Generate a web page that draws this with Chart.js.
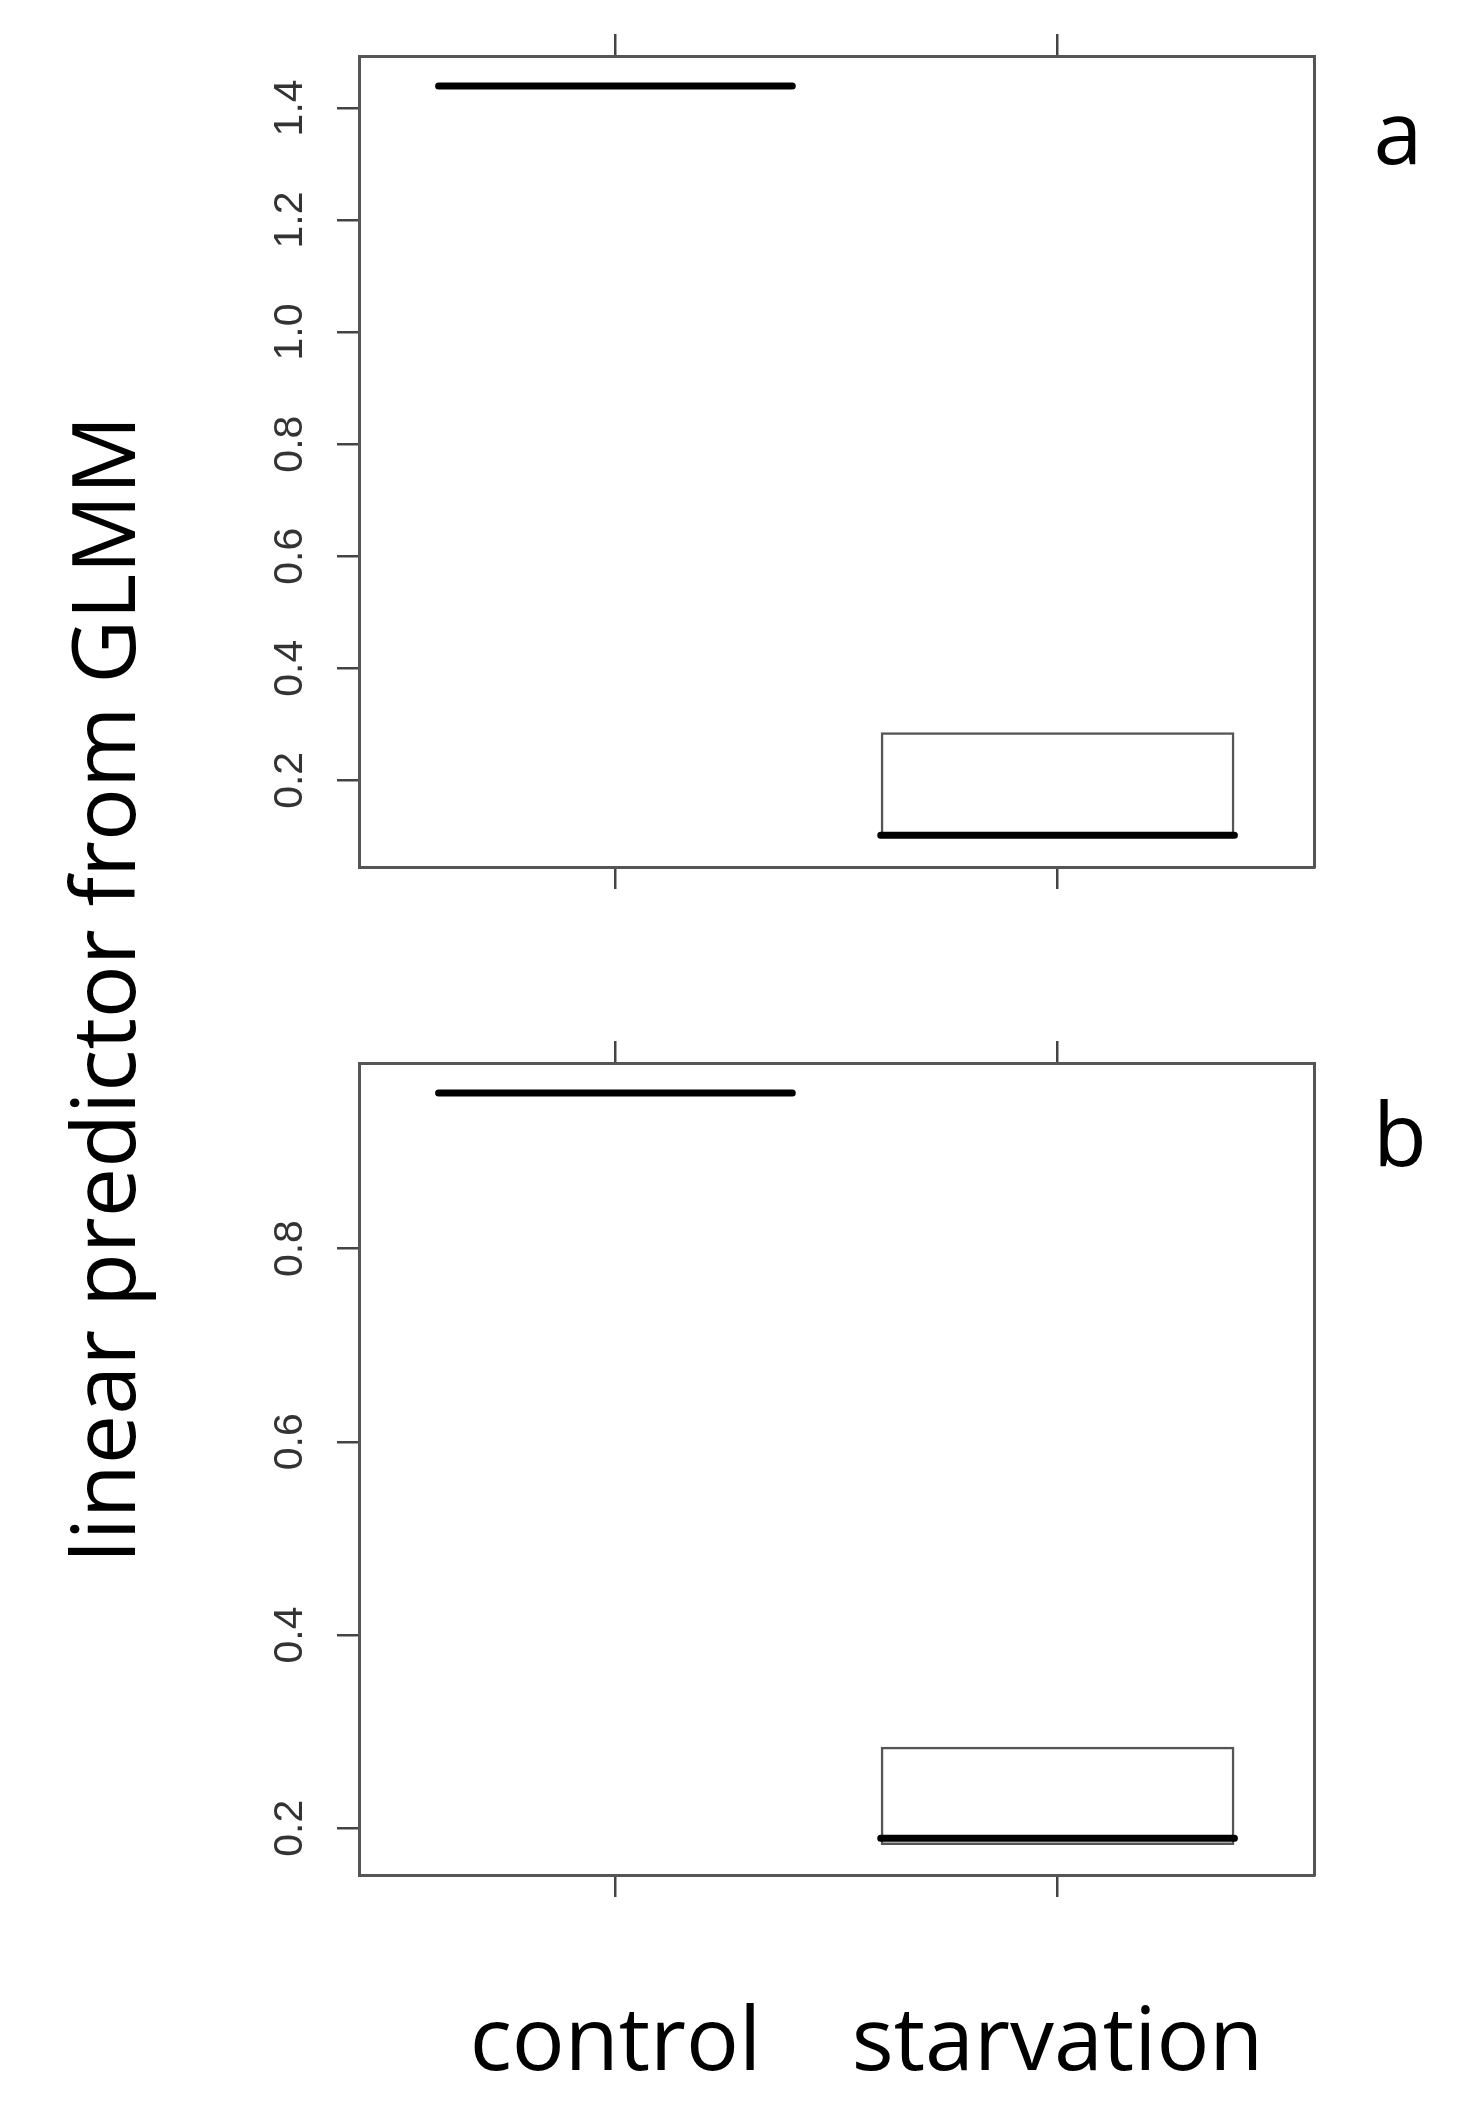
<!DOCTYPE html>
<html>
<head>
<meta charset="utf-8">
<script src="https://cdn.jsdelivr.net/npm/chart.js@4.4.1/dist/chart.umd.min.js"></script>
<style>
  html, body { margin: 0; padding: 0; background: #fff; }
  body { width: 1468px; height: 2122px; position: relative; overflow: hidden; }
  canvas { position: absolute; left: 0; }
  #chartA { top: 0; }
  #chartB { top: 940px; }
  .big {
    position: absolute;
    font-family: "Open Sans", sans-serif;
    font-size: 88px;
    line-height: 88px;
    color: #000;
    white-space: nowrap;
    text-align: center;
  }
  #ytitle { left: -599px; top: 945px; width: 1400px; transform: rotate(-90deg); }
  #labelA { left: 1348px; top: 86px; width: 100px; }
  #labelB { left: 1350px; top: 1088px; width: 100px; }
</style>
</head>
<body>
<canvas id="chartA" width="1468" height="930"></canvas>
<canvas id="chartB" width="1468" height="1182"></canvas>
<div class="big" id="ytitle">linear predictor from GLMM</div>
<div class="big" id="labelA">a</div>
<div class="big" id="labelB">b</div>
<script>
const categories = ["control", "starvation"];

// panel a
const aQ1 = [1.439, 0.099];
const aMedian = [1.439, 0.102];
const aQ3 = [1.439, 0.2857];
const aTicks = [0.2, 0.4, 0.6, 0.8, 1.0, 1.2, 1.4];

// panel b
const bQ1 = [0.961, 0.1827];
const bMedian = [0.961, 0.1897];
const bQ3 = [0.961, 0.2844];
const bTicks = [0.2, 0.4, 0.6, 0.8];

const frameColor = "#555";
const boxHalf = 0.4;

// R style axis limits: range widened by 4%
const rLimits = (lo, hi) => {
    const pad = (hi - lo) * 0.04;
    return [lo - pad, hi + pad];
};

const xLim = rLimits(0.5, categories.length + 0.5);

const makePanel = (id, q1, med, q3, yTicks, showLabels, topH, bottomH) => {
    const ctx = document.getElementById(id);
    const yLim = rLimits(Math.min(...q1), Math.max(...q3));

    const medianPts = [];
    categories.forEach((c, i) => {
        if (i > 0) medianPts.push({ x: i + 0.5, y: null });
        medianPts.push({ x: i + 1 - boxHalf, y: med[i] });
        medianPts.push({ x: i + 1 + boxHalf, y: med[i] });
    });

    const xTicks = scale => {
        scale.ticks = categories.map((c, i) => ({ value: i + 1 }));
    };

    const grid = () => ({
        offset: false,
        drawOnChartArea: false,
        drawTicks: true,
        tickLength: 22,
        color: "#444",
        lineWidth: 2.5,
    });
    const border = () => ({ display: true, color: frameColor, width: 3 });

    const config = {
        data: {
            datasets: [
                {
                    type: "line",
                    data: medianPts,
                    borderColor: "#000",
                    borderWidth: 7,
                    borderCapStyle: "round",
                    pointRadius: 0,
                    spanGaps: false,
                    order: 0,
                },
                {
                    type: "bar",
                    data: categories.map((c, i) => ({ x: i + 1, y: [q1[i], q3[i]] })),
                    backgroundColor: "rgba(255,255,255,0)",
                    borderColor: frameColor,
                    borderWidth: 2.5,
                    borderSkipped: false,
                    categoryPercentage: 0.8,
                    barPercentage: 1.0,
                    order: 1,
                },
            ],
        },
        options: {
            responsive: false,
            animation: false,
            events: [],
            layout: { padding: 0 },
            plugins: { legend: { display: false }, tooltip: { enabled: false } },
            scales: {
                x: {
                    type: "linear",
                    position: "bottom",
                    offset: false,
                    min: xLim[0],
                    max: xLim[1],
                    afterBuildTicks: xTicks,
                    afterFit: s => { s.height = bottomH; },
                    ticks: {
                        display: showLabels,
                        autoSkip: false,
                        minRotation: 0,
                        maxRotation: 0,
                        padding: 104,
                        color: "#000",
                        font: { family: "'Open Sans', sans-serif", size: 88, lineHeight: 1 },
                        callback: v => categories[v - 1],
                    },
                    grid: grid(),
                    border: border(),
                },
                x2: {
                    type: "linear",
                    position: "top",
                    offset: false,
                    min: xLim[0],
                    max: xLim[1],
                    afterBuildTicks: xTicks,
                    afterFit: s => { s.height = topH; },
                    ticks: { display: false },
                    grid: grid(),
                    border: border(),
                },
                y: {
                    type: "linear",
                    position: "left",
                    min: yLim[0],
                    max: yLim[1],
                    afterBuildTicks: s => { s.ticks = yTicks.map(v => ({ value: v })); },
                    afterFit: s => { s.width = 359; },
                    ticks: {
                        minRotation: 90,
                        maxRotation: 90,
                        crossAlign: "center",
                        padding: 18,
                        color: "#333",
                        font: { family: "'Liberation Sans', Arial, sans-serif", size: 41 },
                        callback: v => v.toFixed(1),
                    },
                    grid: grid(),
                    border: border(),
                },
                y2: {
                    type: "linear",
                    position: "right",
                    afterFit: s => { s.width = 154; },
                    ticks: { display: false },
                    grid: { display: false },
                    border: border(),
                },
            },
        },
    };

    return new Chart(ctx, config);
};

makePanel("chartA", aQ1, aMedian, aQ3, aTicks, false, 56, 63);
makePanel("chartB", bQ1, bMedian, bQ3, bTicks, true, 123, 247);
</script>
</body>
</html>
